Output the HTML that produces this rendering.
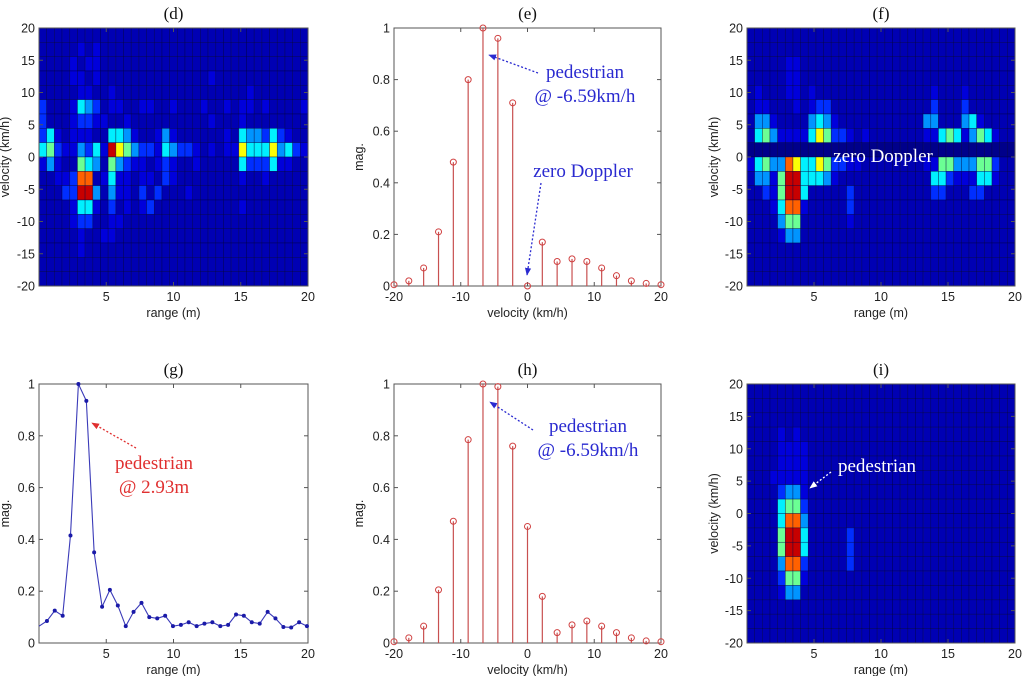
<!DOCTYPE html>
<html><head><meta charset="utf-8"><style>
body{margin:0;background:#fff;width:1024px;height:676px;overflow:hidden}
svg text{font-family:"Liberation Sans",sans-serif}
.t{font-family:"Liberation Serif",serif;font-size:17px;fill:#111}
.tk{font-size:12.5px;fill:#222}
.an{font-family:"Liberation Serif",serif;font-size:19px}
</style></head><body>
<svg id="fig" width="1024" height="676" viewBox="0 0 1024 676" xmlns="http://www.w3.org/2000/svg">
<defs>
<marker id="ab" viewBox="0 0 10 10" refX="9" refY="5" markerWidth="6" markerHeight="6" orient="auto"><path d="M0,1 L10,5 L0,9z" fill="#2a2ad0"/></marker>
<marker id="ar" viewBox="0 0 10 10" refX="9" refY="5" markerWidth="6" markerHeight="6" orient="auto"><path d="M0,1 L10,5 L0,9z" fill="#e03030"/></marker>
<marker id="aw" viewBox="0 0 10 10" refX="9" refY="5" markerWidth="6" markerHeight="6" orient="auto"><path d="M0,1 L10,5 L0,9z" fill="#fff"/></marker>
</defs>
</svg>
<script>
// ---- data ----
const mapD = [
"11111111111111111111111111111111111",
"11111212111111111111111111111111111",
"11112122111111111111111111111111111",
"11112212111111111111112111111111111",
"11111221121111111111111111121111111",
"31112543122112211211121121221211112",
"31112332211211111111112111211111111",
"35212221155421124211111121544353211",
"56322435297643325433212122755574532",
"24211654164322123211211111533352211",
"11223881252212213211111111211211111",
"11133994142213131112111111111111111",
"11112552131212311111111111211111111",
"11112331122111111111111111111111111",
"11111211221111111111111111111111111",
"11111211111111111111111111111111111",
"11111111111111111111111111111111111",
"11111111111111111111111111111111111"];
const mapF = [
"11111111111111111111111111111111111",
"11111111111111111111111111111111111",
"11111221111111111111111111111111111",
"11111221111111111111111111111111111",
"12111221211111111111111121112111111",
"12211121233111111111111131113111111",
"14421111454211111111111441114521111",
"15642222576332121111111225652465211",
"00000000000000000000000000000000000",
"25644875576332211111111226644466311",
"14426995554211111111111155322255211",
"11326995111113111111111133111331111",
"11125882111113111111111111111111111",
"11114661111112111111111111111111111",
"11112441111111111111111111111111111",
"11111111111111111111111111111111111",
"11111111111111111111111111111111111",
"11111111111111111111111111111111111"];
const mapI = [
"11111111111111111111111111111111111",
"11111111111111111111111111111111111",
"11111111111111111111111111111111111",
"11112121111111111111111111111111111",
"11112222111111111111111111111111111",
"11112222111111111111111111111111111",
"11122222111111111111111111111111111",
"11113442111111111111111111111111111",
"11115663111111111111111111111111111",
"11115884111111111111111111111111111",
"11116995111113111111111111111111111",
"11116995111113111111111111111111111",
"11114883111113111111111111111111111",
"11113662111111111111111111111111111",
"11112441111111111111111111111111111",
"11111111111111111111111111111111111",
"11111111111111111111111111111111111",
"11111111111111111111111111111111111"];
const levelT = [0.01,0.05,0.09,0.17,0.27,0.36,0.48,0.62,0.78,0.93];
const velocities = [-20,-17.78,-15.56,-13.33,-11.11,-8.89,-6.67,-4.44,-2.22,0,2.22,4.44,6.67,8.89,11.11,13.33,15.56,17.78,20];
const magE = [0.005,0.02,0.07,0.21,0.48,0.80,1.0,0.96,0.71,0.0,0.17,0.095,0.105,0.095,0.07,0.04,0.02,0.01,0.005];
const magH = [0.005,0.02,0.065,0.205,0.47,0.785,1.0,0.99,0.76,0.45,0.18,0.04,0.07,0.085,0.065,0.04,0.02,0.008,0.005];
const rangesG = [0,0.59,1.17,1.76,2.34,2.93,3.52,4.10,4.69,5.27,5.86,6.45,7.03,7.62,8.20,8.79,9.38,9.96,10.55,11.13,11.72,12.30,12.89,13.48,14.06,14.65,15.23,15.82,16.41,17.00,17.58,18.17,18.75,19.34,19.92];
const magG = [0.065,0.085,0.125,0.105,0.415,1.0,0.935,0.35,0.14,0.205,0.145,0.065,0.12,0.155,0.1,0.095,0.105,0.065,0.07,0.08,0.065,0.075,0.08,0.065,0.07,0.11,0.105,0.08,0.075,0.12,0.095,0.062,0.06,0.08,0.065];
const velTicks = [-20,-15,-10,-5,0,5,10,15,20];
const rangeTicks = [5,10,15,20];
const magTicks = [0,0.2,0.4,0.6,0.8,1];
const velTicks2 = [-20,-10,0,10,20];

const svg = document.getElementById('fig');
const NS = 'http://www.w3.org/2000/svg';
function mk(tag, attrs, parent){const e=document.createElementNS(NS,tag);for(const k in attrs)e.setAttribute(k,attrs[k]);(parent||svg).appendChild(e);return e;}
function txt(s,attrs,parent){const e=mk('text',attrs,parent);e.textContent=s;return e;}
function clamp(v){return Math.max(0,Math.min(1,v));}
function jet(t){const r=clamp(1.5-Math.abs(4*t-3)),g=clamp(1.5-Math.abs(4*t-2)),b=clamp(1.5-Math.abs(4*t-1));return `rgb(${Math.round(r*255)},${Math.round(g*255)},${Math.round(b*255)})`;}

function axes(P){
  const g=mk('g',{});
  
  
  P.g=g;
  P.sx=v=>P.x0+(v-P.xmin)/(P.xmax-P.xmin)*(P.x1-P.x0);
  P.sy=v=>P.y1-(v-P.ymin)/(P.ymax-P.ymin)*(P.y1-P.y0);
  const t=txt(P.title,{class:'t',x:(P.x0+P.x1)/2,y:P.y0-9,'text-anchor':'middle'},g);
  
  
  return g;
}
function frame(P){
  const g=P.g;
  const r=mk('rect',{x:P.x0,y:P.y0,width:P.x1-P.x0,height:P.y1-P.y0,fill:'none',stroke:'#555','stroke-width':1},g);
  
  
  const xa=mk('g',{},g);
  
  
  P.xt.forEach(v=>{const x=P.sx(v);
    mk('line',{x1:x,x2:x,y1:P.y1,y2:P.y1-4,stroke:'#555'},xa);
    mk('line',{x1:x,x2:x,y1:P.y0,y2:P.y0+4,stroke:'#555'},xa);
    const l=txt(String(v),{class:'tk',x:x,y:P.y1+15,'text-anchor':'middle'},xa);
    
    
  });
  const ya=mk('g',{},g);
  
  
  P.yt.forEach(v=>{const y=P.sy(v);
    mk('line',{x1:P.x0,x2:P.x0+4,y1:y,y2:y,stroke:'#555'},ya);
    mk('line',{x1:P.x1,x2:P.x1-4,y1:y,y2:y,stroke:'#555'},ya);
    const l=txt(String(v),{class:'tk',x:P.x0-4,y:y+4.5,'text-anchor':'end'},ya);
    
    
  });
  const xl=txt(P.xlabel,{class:'tk',x:(P.x0+P.x1)/2,y:P.y1+31,'text-anchor':'middle','font-size':'13'},g);
  
  
  const yx=P.ylx, yy=(P.y0+P.y1)/2;
  const yl=txt(P.ylabel,{class:'tk',x:yx,y:yy,'text-anchor':'middle',transform:`rotate(-90 ${yx} ${yy})`},g);
  
  
}
function heat(P,map){
  const rows=map.length, cols=35;
  const cw=(P.x1-P.x0)/cols, ch=(P.y1-P.y0)/rows;
  const hg=mk('g',{},P.g);
  
  
  map.forEach((row,i)=>{
    const s=(row+'1'.repeat(cols)).slice(0,cols);
    for(let j=0;j<cols;j++){
      const lv=+s[j];
      const c=mk('rect',{x:P.x0+j*cw,y:P.y0+i*ch,width:cw,height:ch,fill:jet(levelT[lv]),stroke:'#000040','stroke-opacity':0.6,'stroke-width':0.6},hg);
      
      
    }
  });
}
function stems(P,xs,ys){
  const sg=mk('g',{},P.g);
  
  
  xs.forEach((v,i)=>{
    const x=P.sx(v), y=P.sy(ys[i]);
    const l=mk('line',{x1:x,x2:x,y1:P.sy(0),y2:y,stroke:'#c85050','stroke-width':1.2},sg);
    
    
    const c=mk('circle',{cx:x,cy:y,r:3,fill:'none',stroke:'#d04040','stroke-width':1},sg);
    
    
  });
}
function note(P,lines,x,y,color){
  lines.forEach((s,i)=>{
    const t=txt(s,{class:'an',x:x,y:y+i*24,'text-anchor':'middle',fill:color},P.g);
    
    
  });
}
function arrow(P,x1,y1,x2,y2,color,m){
  const a=mk('line',{x1,y1,x2,y2,stroke:color,'stroke-width':1.3,'stroke-dasharray':'2 2','marker-end':`url(#${m})`},P.g);
  
  
}

// (d)
const PD={name:'panel-d-heatmap',title:'(d)',x0:39,x1:308,y0:28,y1:286,xmin:0,xmax:20,ymin:-20,ymax:20,xt:rangeTicks,yt:velTicks,xlabel:'range (m)',ylabel:'velocity (km/h)',ylx:9};
axes(PD);heat(PD,mapD);frame(PD);
// (f)
const PF={name:'panel-f-heatmap',title:'(f)',x0:747,x1:1015,y0:28,y1:286,xmin:0,xmax:20,ymin:-20,ymax:20,xt:rangeTicks,yt:velTicks,xlabel:'range (m)',ylabel:'velocity (km/h)',ylx:718};
axes(PF);heat(PF,mapF);frame(PF);
note(PF,['zero Doppler'],883,162,'#fff');
// (i)
const PI={name:'panel-i-heatmap',title:'(i)',x0:747,x1:1015,y0:384,y1:643,xmin:0,xmax:20,ymin:-20,ymax:20,xt:rangeTicks,yt:velTicks,xlabel:'range (m)',ylabel:'velocity (km/h)',ylx:718};
axes(PI);heat(PI,mapI);frame(PI);
note(PI,['pedestrian'],877,472,'#fff');
arrow(PI,831,472,810,488,'#fff','aw');
// (e)
const PE={name:'panel-e-doppler-stem',title:'(e)',x0:394,x1:661,y0:28,y1:286,xmin:-20,xmax:20,ymin:0,ymax:1,xt:velTicks2,yt:magTicks,xlabel:'velocity (km/h)',ylabel:'mag.',ylx:363};
axes(PE);frame(PE);stems(PE,velocities,magE);
note(PE,['pedestrian','@ -6.59km/h'],585,78,'#2a2ad0');
arrow(PE,538,73,489,55,'#2a2ad0','ab');
note(PE,['zero Doppler'],583,177,'#2a2ad0');
arrow(PE,541,183,527,275,'#2a2ad0','ab');
// (h)
const PH={name:'panel-h-doppler-stem',title:'(h)',x0:394,x1:661,y0:384,y1:643,xmin:-20,xmax:20,ymin:0,ymax:1,xt:velTicks2,yt:magTicks,xlabel:'velocity (km/h)',ylabel:'mag.',ylx:363};
axes(PH);frame(PH);stems(PH,velocities,magH);
note(PH,['pedestrian','@ -6.59km/h'],588,432,'#2a2ad0');
arrow(PH,533,430,490,402,'#2a2ad0','ab');
// (g)
const PG={name:'panel-g-range-profile',title:'(g)',x0:39,x1:308,y0:384,y1:643,xmin:0,xmax:20,ymin:0,ymax:1,xt:rangeTicks,yt:magTicks,xlabel:'range (m)',ylabel:'mag.',ylx:9};
axes(PG);frame(PG);
const pts=rangesG.map((v,i)=>PG.sx(v)+','+PG.sy(magG[i])).join(' ');
const pl=mk('polyline',{points:pts,fill:'none',stroke:'#3a3ab8','stroke-width':1.1},PG.g);


rangesG.forEach((v,i)=>{if(i===0)return;
  const d=mk('circle',{cx:PG.sx(v),cy:PG.sy(magG[i]),r:2,fill:'#1a1aa8'},PG.g);
  
  
});
note(PG,['pedestrian','@ 2.93m'],154,469,'#e03030');
arrow(PG,136,448,92,423,'#e03030','ar');
</script>
</body></html>
